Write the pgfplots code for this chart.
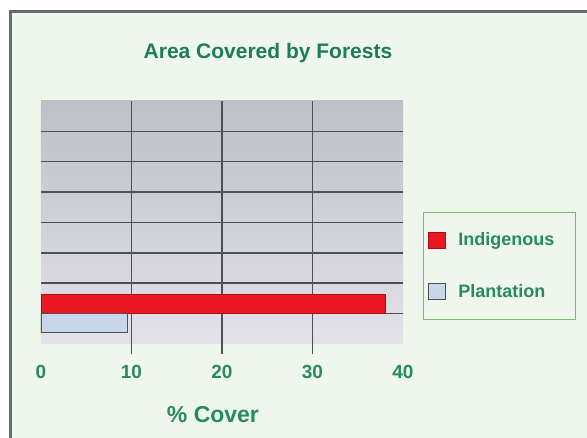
\documentclass[border=0pt]{standalone}
\usepackage{fontspec}
\setmainfont{Liberation Sans}
\usepackage{pgfplots}
\pgfplotsset{compat=1.18}

\definecolor{bg}{RGB}{239,247,236}
\definecolor{txtgreen}{RGB}{38,140,92}
\definecolor{ttlgreen}{RGB}{30,125,85}
\definecolor{gridc}{RGB}{78,80,84}
\definecolor{plotTop}{RGB}{190,192,197}
\definecolor{plotBot}{RGB}{226,226,232}
\definecolor{indig}{RGB}{234,22,34}
\definecolor{plant}{RGB}{200,214,234}
\definecolor{legframe}{RGB}{130,185,110}

\begin{document}
\begin{tikzpicture}[x=1pt,y=1pt]
\useasboundingbox (0,0) rectangle (587,438);
\fill[white] (0,0) rectangle (587,438);
\fill[bg] (10,-5) rectangle (600,426);
\draw[gridc!85, line width=3pt] (10,-5) -- (10,426) -- (600,426);

\begin{axis}[
  at={(41pt,94pt)}, anchor=south west,
  scale only axis, width=362pt, height=243pt,
  xbar, bar width=19pt,
  xmin=0, xmax=40, ymin=0, ymax=8,
  axis line style={draw=none},
  axis background/.style={top color=plotTop, bottom color=plotBot},
  xtick={10,20,30},
  extra x ticks={0,40},
  extra x tick style={grid=none, tick style={draw=none}},
  xtick pos=bottom, tick align=outside, major tick length=10pt,
  x tick style={gridc, line width=1.5pt},
  ytick={1,...,7}, yticklabels={}, y tick style={draw=none},
  xmajorgrids, ymajorgrids,
  major grid style={gridc, line width=1.5pt},
  /pgf/number format/assume math mode=true,
  xticklabel style={font=\bfseries\fontsize{19}{19}\selectfont, text=txtgreen, yshift=-8pt},
  title={Area Covered by Forests},
  title style={font=\bfseries\fontsize{21}{21}\selectfont, text=ttlgreen,
    at={(0.627,1)}, anchor=base, yshift=36pt},
  xlabel={\% Cover},
  xlabel style={font=\bfseries\fontsize{23}{23}\selectfont, text=txtgreen,
    at={(0.475,0)}, anchor=base, yshift=-79pt},
  legend style={at={(1.055,0.543)}, anchor=north west,
    draw=legframe, line width=1.2pt, fill=bg,
    font=\bfseries\fontsize{18}{18}\selectfont, text=txtgreen,
    inner xsep=4pt, inner ysep=19pt, row sep=35pt, column sep=12pt,
    nodes={inner sep=1pt}},
  legend cell align=left,
  legend image code/.code={\draw[#1, line width=0.8pt] (0pt,-8pt) rectangle (17pt,8pt);},
]
\addplot[fill=indig, draw=indig!70!black, line width=0.6pt, bar shift=9.5pt]
  coordinates {(38.0,1)};
\addplot[fill=plant, draw=gridc, line width=1.2pt, bar shift=-9.5pt]
  coordinates {(9.6,1)};
\legend{Indigenous\hspace*{16pt}, Plantation}
\end{axis}
\end{tikzpicture}
\end{document}
